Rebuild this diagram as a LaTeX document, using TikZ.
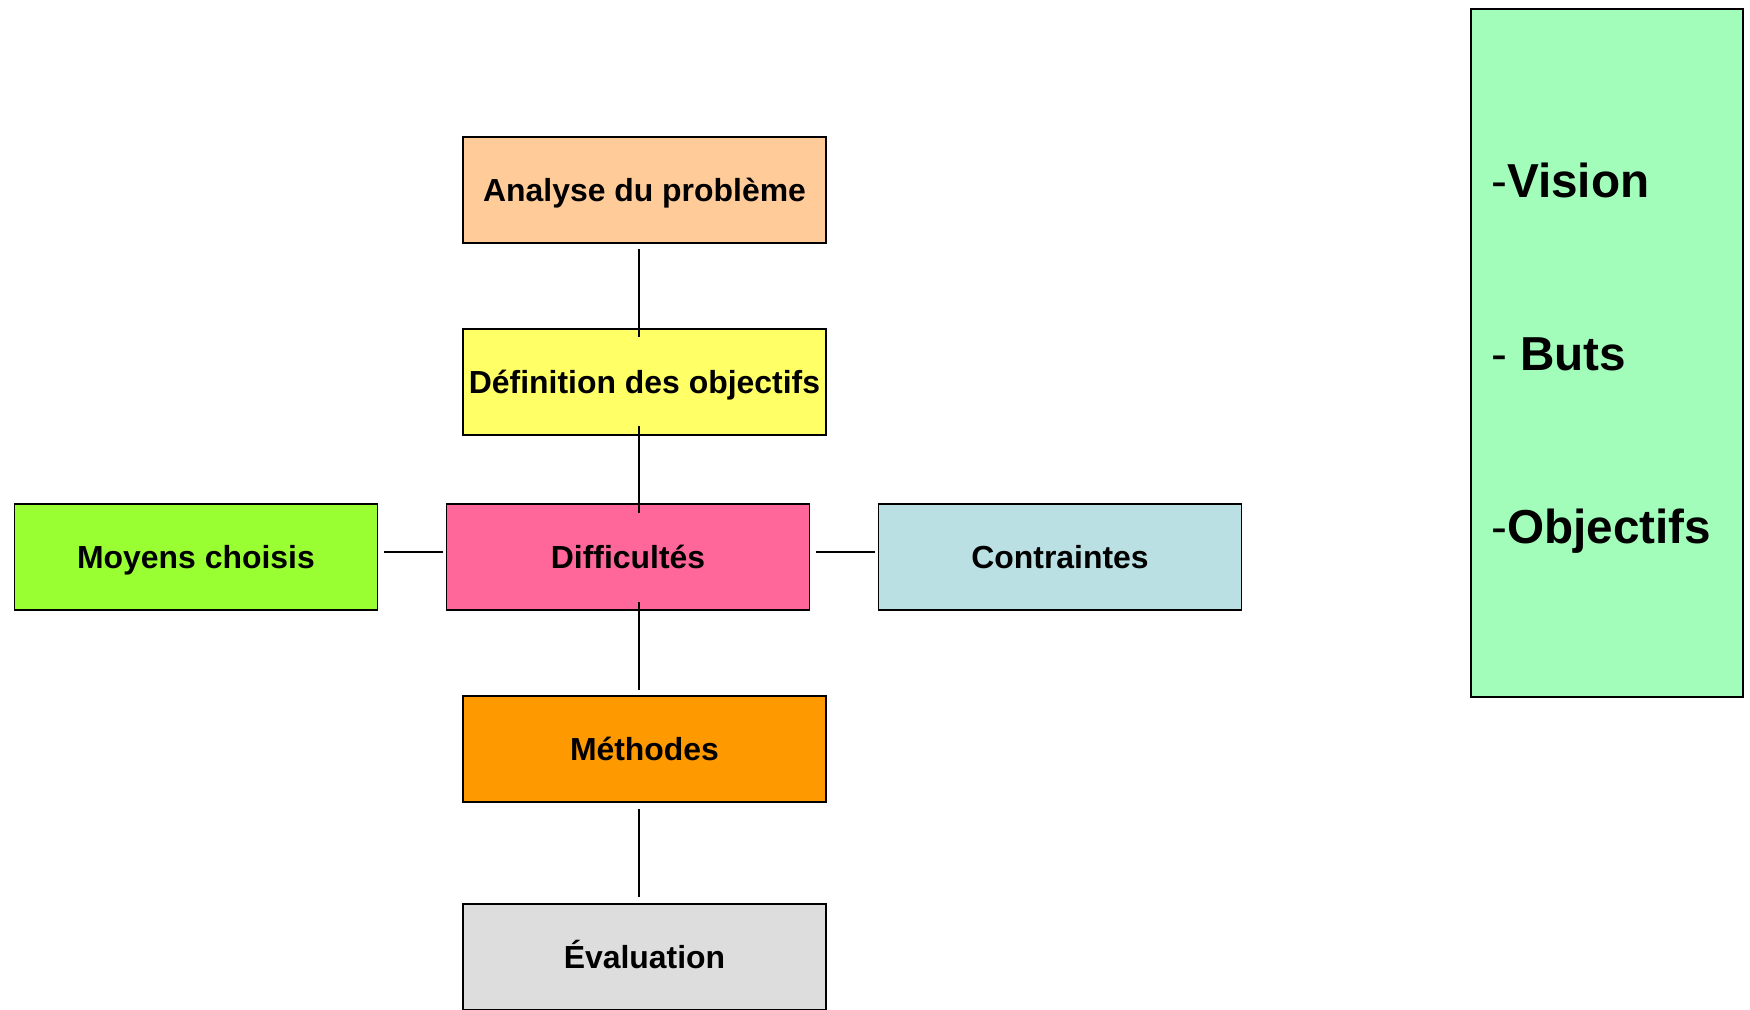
\documentclass[tikz,border=0pt]{standalone}
\usepackage{fontspec}
\setmainfont{Liberation Sans}

\begin{document}
\begin{tikzpicture}[x={(0.025cm,0cm)}, y={(0cm,-0.025cm)},
    %Option for boxes and links
    box/.style={draw=black, line width=1.2pt, fill=#1, inner sep=0pt,
        minimum width=9.075cm, minimum height=2.65cm,
        text height=16.3pt, text depth=0pt,
        font=\fontsize{22.7}{27}\selectfont\bfseries},
    link/.style={line width=0.9pt},
    item/.style={anchor=base west, inner sep=0pt,
        font=\fontsize{33.9}{40}\selectfont\bfseries},
]
    % Colors
    \definecolor{peach}{HTML}{FFCC99}
    \definecolor{paleyellow}{HTML}{FFFF66}
    \definecolor{limegreen}{HTML}{99FF33}
    \definecolor{pinkred}{HTML}{FF6699}
    \definecolor{paleblue}{HTML}{BBE0E3}
    \definecolor{deeporange}{HTML}{FF9900}
    \definecolor{palegrey}{HTML}{DDDDDD}
    \definecolor{mint}{HTML}{A3FDBA}

    % Frame
    \useasboundingbox (0,0) rectangle (1750,1009);
    \clip (0,0) rectangle (1750,1009);

    % Boxes
    \node[box=peach]      (ana)  at (644.5,190) {Analyse du problème};
    \node[box=paleyellow] (def)  at (644.5,382) {Définition des objectifs};
    \node[box=pinkred]    (diff) at (628,557)   {Difficultés};
    \node[box=limegreen]  (moy)  at (196,557)   {Moyens choisis};
    \node[box=paleblue]   (con)  at (1060,557)  {Contraintes};
    \node[box=deeporange] (meth) at (644.5,749) {Méthodes};
    \node[box=palegrey]   (eval) at (644.5,957) {Évaluation};

    %Links between boxes
    \coordinate (spine) at (639,0);
    \coordinate (hline) at (0,552);
    \draw[link, shorten <=0.125cm, shorten >=-0.225cm]
        (ana.south -| spine) -- (def.north -| spine);
    \draw[link, shorten <=-0.25cm, shorten >=-0.25cm]
        (def.south -| spine) -- (diff.north -| spine);
    \draw[link, shorten <=-0.225cm, shorten >=0.125cm]
        (diff.south -| spine) -- (meth.north -| spine);
    \draw[link, shorten <=0.15cm, shorten >=0.15cm]
        (meth.south -| spine) -- (eval.north -| spine);
    \draw[link, shorten <=0.15cm, shorten >=0.075cm]
        (moy.east |- hline) -- (diff.west |- hline);
    \draw[link, shorten <=0.15cm, shorten >=0.075cm]
        (diff.east |- hline) -- (con.west |- hline);

    %Side panel
    \node[draw=black, line width=1.2pt, fill=mint, minimum width=6.8cm,
        minimum height=17.2cm, inner sep=0pt] (panel) at (1607,353) {};
    \node[item] (vision) at (1491,197) {{\mdseries -}Vision};
    \node[item] (buts)   at (1491,370) {{\mdseries -} Buts};
    \node[item] (obj)    at (1491,543) {{\mdseries -}Objectifs};
\end{tikzpicture}
\end{document}
